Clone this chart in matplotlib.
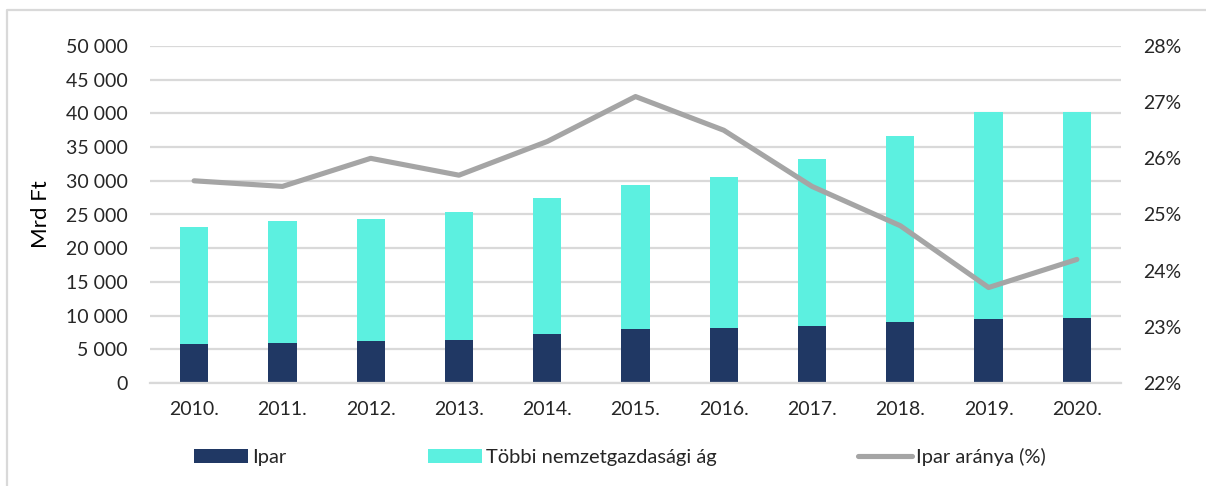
import numpy as np
import matplotlib
matplotlib.use('Agg')
import matplotlib.pyplot as plt
from matplotlib.patches import Patch
from matplotlib.lines import Line2D
from matplotlib.ticker import FuncFormatter, MultipleLocator

plt.rcParams['font.family'] = ['Lato', 'DejaVu Sans']

# data
years = ['2010.', '2011.', '2012.', '2013.', '2014.', '2015.',
         '2016.', '2017.', '2018.', '2019.', '2020.']
ipar = [5850, 6000, 6200, 6400, 7200, 7950, 8100, 8500, 9050, 9500, 9650]
tobbi = [17300, 18100, 18100, 19000, 20300, 21450, 22500, 24700, 27550, 30750, 30600]
ipar_arany = [25.6, 25.5, 26.0, 25.7, 26.3, 27.1, 26.5, 25.5, 24.8, 23.7, 24.2]

navy = '#203864'
cyan = '#5CF0E0'
gray = '#A5A5A5'
grid = '#D9D9D9'
txt = '#262626'

W, H = 1206, 486
fig = plt.figure(figsize=(W/100, H/100), dpi=100)
ax = fig.add_axes([150/W, 1-383/H, (1121-150)/W, (383-46)/H])

x = np.arange(len(years))
bw = 0.32
ax.bar(x, ipar, bw, color=navy, zorder=2)
ax.bar(x, tobbi, bw, bottom=ipar, color=cyan, zorder=2)

ax.set_xlim(-0.5, len(years)-0.5)
ax.set_ylim(0, 50000)
ax.yaxis.set_major_locator(MultipleLocator(5000))
ax.yaxis.set_major_formatter(FuncFormatter(lambda v, p: '{:,}'.format(int(v)).replace(',', ' ')))
ax.set_xticks(x)
ax.set_xticklabels(years)
ax.yaxis.grid(True, color=grid, lw=1.6, zorder=0)
ax.set_axisbelow(True)
for s in ['top', 'right', 'left']:
    ax.spines[s].set_visible(False)
ax.spines['bottom'].set_color(grid)
ax.spines['bottom'].set_linewidth(1.6)
ax.tick_params(axis='y', length=0, pad=16, labelsize=14, labelcolor=txt)
ax.tick_params(axis='x', length=0, pad=13, labelsize=14, labelcolor=txt)
ax.set_ylabel('Mrd Ft', fontsize=16, color='black', labelpad=11)

ax2 = ax.twinx()
ax2.plot(x, np.array(ipar_arany)/100, color=gray, lw=3.7, solid_capstyle='round', zorder=3)
ax2.set_ylim(0.22, 0.28)
ax2.yaxis.set_major_locator(MultipleLocator(0.01))
ax2.yaxis.set_major_formatter(FuncFormatter(lambda v, p: '%d%%' % round(v*100)))
for s in ax2.spines.values():
    s.set_visible(False)
ax2.tick_params(axis='y', length=0, pad=16, labelsize=14, labelcolor=txt)

handles = [Patch(facecolor=navy), Patch(facecolor=cyan),
           Line2D([], [], color=gray, lw=3.7, solid_capstyle='round')]
labels = ['Ipar', 'Többi nemzetgazdasági ág', 'Ipar aránya (%)']
fig.legend(handles, labels, loc='center', bbox_to_anchor=(0.514, 1-457/H), ncol=3,
           frameon=False, fontsize=14.5, handlelength=2.7, handleheight=0.72,
           handletextpad=0.2, columnspacing=7.0, labelcolor=txt)

# outer frame of the chart object
fig.add_artist(Line2D([7/W, 7/W, 1], [0, 1-10/H, 1-10/H], color=grid, lw=1.6,
                      transform=fig.transFigure))

fig.savefig('out.png', dpi=100)
